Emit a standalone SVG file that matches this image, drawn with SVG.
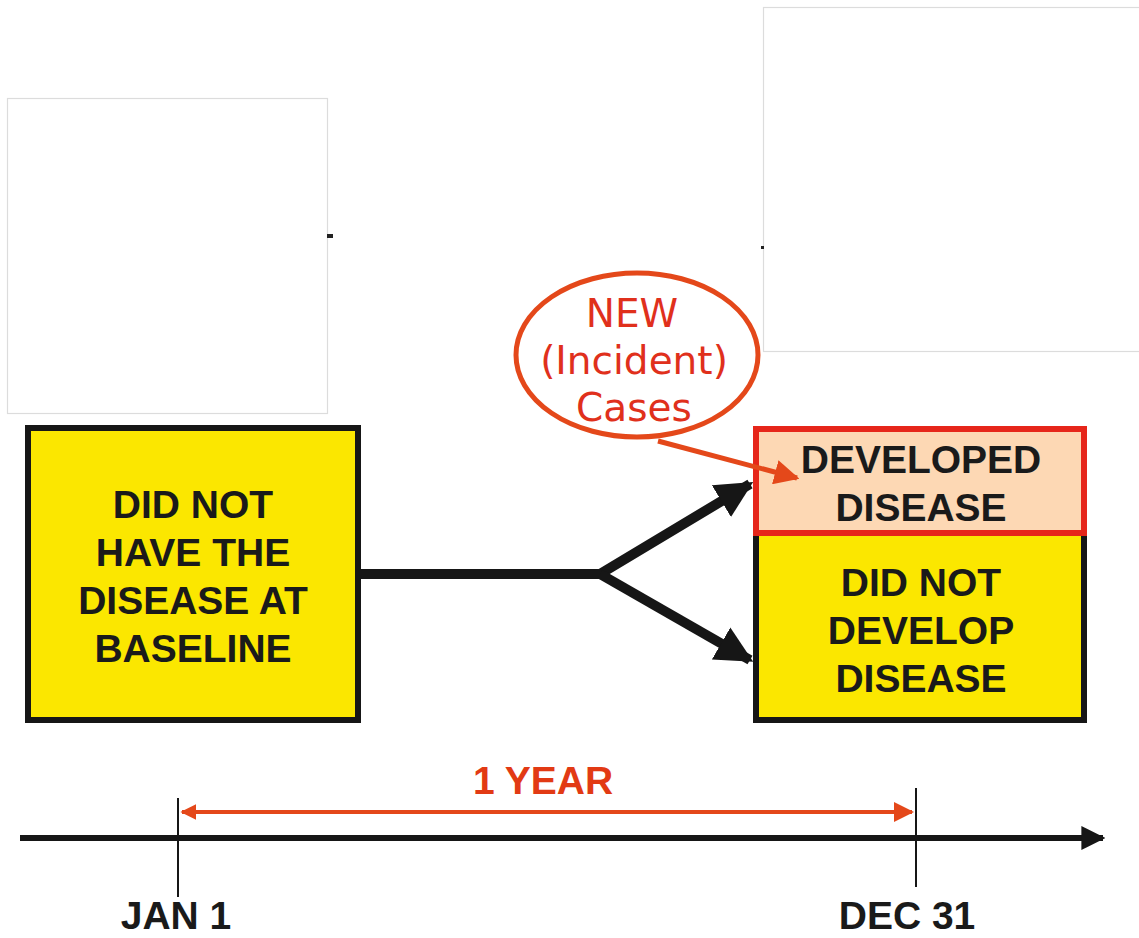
<svg xmlns="http://www.w3.org/2000/svg" width="1139" height="938" viewBox="0 0 1139 938">
<style>
.box{stroke:#161616;stroke-width:6}
.lbl{font-family:"Liberation Sans",Arial,sans-serif;font-weight:bold;font-size:39px;fill:#1a1a1a;text-anchor:middle}
.tl{font-size:39px}
.red{fill:#e23a14}
.hand{font-family:"DejaVu Sans","Noto Sans",sans-serif;font-size:39px;fill:#e0301c;text-anchor:middle}
.ph{fill:#fff;stroke:#dcdcdc;stroke-width:1.2}
</style>
<defs>
<marker id="ab" viewBox="0 0 10 10" refX="9" refY="5" markerWidth="3.7" markerHeight="3.7" orient="auto"><path d="M0,0 L10,5 L0,10 z" fill="#161616"/></marker>
<marker id="ao" viewBox="0 0 10 10" refX="9" refY="5" markerWidth="5" markerHeight="5" orient="auto"><path d="M0,0 L10,5 L0,10 z" fill="#e4481a"/></marker>
<marker id="ar" viewBox="0 0 10 10" refX="9" refY="5" markerWidth="4" markerHeight="4" orient="auto-start-reverse"><path d="M0,0 L10,5 L0,10 z" fill="#e4481a"/></marker>
<marker id="at" viewBox="0 0 10 10" refX="9" refY="5" markerWidth="4" markerHeight="4" orient="auto"><path d="M0,0 L10,5 L0,10 z" fill="#161616"/></marker>
</defs>
<rect width="1139" height="938" fill="#fff"/>
<g id="placeholders">
<rect class="ph" x="7.5" y="98.5" width="320" height="315"/>
<rect x="327" y="234" width="6" height="4" fill="#222"/>
<rect class="ph" x="763.5" y="7.5" width="380" height="344"/>
<rect x="761" y="246" width="3" height="3" fill="#222"/>
</g>
<g id="node-baseline">
<rect class="box" x="28" y="428" width="330" height="292" fill="#fbe700"/>
<text class="lbl" x="193" y="518">DID NOT</text>
<text class="lbl" x="193" y="566">HAVE THE</text>
<text class="lbl" x="193" y="614">DISEASE AT</text>
<text class="lbl" x="193" y="662">BASELINE</text>
</g>
<g id="node-notdeveloped">
<rect class="box" x="756" y="530" width="328" height="190" fill="#fbe700"/>
<text class="lbl" x="921" y="596">DID NOT</text>
<text class="lbl" x="921" y="644">DEVELOP</text>
<text class="lbl" x="921" y="692">DISEASE</text>
</g>
<g id="node-developed">
<rect x="756" y="429" width="328" height="104" fill="#fdd8b4" stroke="#e6261a" stroke-width="6"/>
<text class="lbl" x="921" y="473">DEVELOPED</text>
<text class="lbl" x="921" y="521">DISEASE</text>
</g>
<g id="node-callout">
<ellipse cx="637" cy="355" rx="121" ry="82" fill="#fff" stroke="#e4481a" stroke-width="5"/>
<text class="hand" x="632" y="327">NEW</text>
<text class="hand" x="634" y="374">(Incident)</text>
<text class="hand" x="634" y="421">Cases</text>
</g>
<g id="connectors">
<path d="M359,574 L600,574 L750,484" fill="none" stroke="#161616" stroke-width="10" marker-end="url(#ab)"/>
<path d="M600,574 L750,660" fill="none" stroke="#161616" stroke-width="10" marker-end="url(#ab)"/>
<path d="M658,441 L797,478" fill="none" stroke="#e4481a" stroke-width="5" marker-end="url(#ao)"/>
</g>
<g id="timeline">
<line x1="20" y1="838" x2="1103" y2="838" stroke="#161616" stroke-width="6" marker-end="url(#at)"/>
<line x1="178" y1="798" x2="178" y2="897" stroke="#161616" stroke-width="2"/>
<line x1="916" y1="788" x2="916" y2="887" stroke="#161616" stroke-width="2"/>
<line x1="182" y1="812" x2="912" y2="812" stroke="#e4481a" stroke-width="4" marker-start="url(#ar)" marker-end="url(#ao)"/>
<text class="lbl red" x="543" y="794">1 YEAR</text>
<text class="lbl tl" x="176" y="929">JAN 1</text>
<text class="lbl tl" x="907" y="929">DEC 31</text>
</g>
</svg>
